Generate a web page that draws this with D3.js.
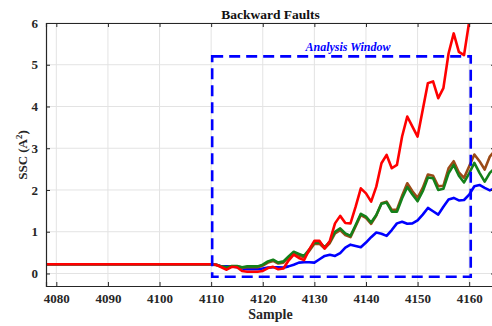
<!DOCTYPE html>
<html><head><meta charset="utf-8">
<script src="https://cdn.jsdelivr.net/npm/d3@7"></script>
<style>
body{margin:0;background:#fff;}
svg{display:block;}
text{font-family:"Liberation Serif","Times New Roman",serif;}
</style></head>
<body>
<svg id="c" width="492" height="326"></svg>
<script>
const samples = [4078,4110,4111,4112,4113,4114,4115,4116,4117,4118,4119,4120,4121,4122,4123,4124,4125,4126,4127,4128,4129,4130,4131,4132,4133,4134,4135,4136,4137,4138,4139,4140,4141,4142,4143,4144,4145,4146,4147,4148,4149,4150,4151,4152,4153,4154,4155,4156,4157,4158,4159,4160,4161,4162,4163,4164,4165];
const blueVals = [0.22,0.22,0.21,0.17,0.17,0.17,0.15,0.12,0.10,0.10,0.10,0.12,0.14,0.15,0.15,0.14,0.17,0.21,0.26,0.27,0.27,0.26,0.34,0.42,0.45,0.42,0.49,0.62,0.69,0.66,0.63,0.74,0.87,0.98,0.95,0.90,1.04,1.20,1.24,1.19,1.20,1.27,1.41,1.57,1.49,1.41,1.60,1.77,1.81,1.75,1.76,1.89,2.09,2.12,2.05,1.99,2.05];
const brownVals = [0.22,0.22,0.20,0.16,0.14,0.17,0.17,0.14,0.15,0.15,0.15,0.19,0.26,0.30,0.24,0.26,0.38,0.49,0.43,0.39,0.54,0.71,0.71,0.60,0.73,0.96,1.04,0.92,0.87,1.13,1.40,1.33,1.19,1.39,1.68,1.72,1.52,1.53,1.86,2.16,1.97,1.81,2.05,2.37,2.34,2.09,2.10,2.52,2.69,2.42,2.29,2.57,2.85,2.69,2.49,2.80,2.95];
const greenVals = [0.22,0.22,0.21,0.17,0.15,0.18,0.18,0.15,0.17,0.17,0.17,0.21,0.29,0.33,0.26,0.29,0.41,0.52,0.47,0.42,0.57,0.74,0.74,0.63,0.76,1.00,1.08,0.96,0.90,1.16,1.43,1.36,1.22,1.40,1.67,1.70,1.48,1.48,1.80,2.07,1.89,1.73,1.97,2.30,2.28,2.00,2.03,2.40,2.60,2.34,2.18,2.40,2.65,2.41,2.20,2.41,2.53];
const redVals = [0.22,0.22,0.21,0.15,0.09,0.16,0.15,0.06,0.04,0.04,0.04,0.06,0.13,0.16,0.10,0.12,0.31,0.45,0.37,0.32,0.57,0.78,0.78,0.60,0.78,1.20,1.38,1.21,1.20,1.60,2.04,1.92,1.72,2.08,2.64,2.84,2.52,2.60,3.28,3.76,3.52,3.28,3.92,4.56,4.60,4.20,4.44,5.27,5.75,5.31,5.23,6.03,6.60,6.40,6.30,6.80,7.20];
const seriesNames = ["blue","brown","green","red"];
const seriesColors = ["#0000ff","#9b4a17","#14801a","#ff0000"];
const xTicks = [4080,4090,4100,4110,4120,4130,4140,4150,4160];
const yTicks = [0,1,2,3,4,5,6];
const xDomain = [4078,4165];
const yDomain = [-0.3,6];
const windowX = [4110.2,4160.3];
const windowY = [-0.08,5.2];
const titleText = "Backward Faults";
const windowText = "Analysis Window";
const xLabel = "Sample";

const svg = d3.select("#c");
const L=46, T=23, R=495, B=286;
const x = d3.scaleLinear().domain(xDomain).range([L,R]);
const y = d3.scaleLinear().domain(yDomain).range([B,T]);

svg.append("defs").append("clipPath").attr("id","clip")
  .append("rect").attr("x",L).attr("y",T).attr("width",R-L).attr("height",B-T);

// grid
const g = svg.append("g");
g.selectAll(".gx").data(xTicks).enter().append("line")
  .attr("x1",d=>x(d)).attr("x2",d=>x(d)).attr("y1",T).attr("y2",B)
  .attr("stroke","#e3e3e3").attr("stroke-width",1);
g.selectAll(".gy").data(yTicks).enter().append("line")
  .attr("y1",d=>y(d)).attr("y2",d=>y(d)).attr("x1",L).attr("x2",R)
  .attr("stroke","#e3e3e3").attr("stroke-width",1);

// lines
const series = [blueVals,brownVals,greenVals,redVals];
const line = d3.line().x((d,i)=>x(samples[i])).y(d=>y(d));
const lg = svg.append("g").attr("clip-path","url(#clip)");
series.forEach((vals,k)=>{
  lg.append("path").datum(vals).attr("d",line)
    .attr("fill","none").attr("stroke",seriesColors[k])
    .attr("stroke-width",2.6).attr("stroke-linejoin","round");
});

// analysis window
svg.append("rect")
  .attr("x",x(windowX[0])).attr("y",y(windowY[1]))
  .attr("width",x(windowX[1])-x(windowX[0])).attr("height",y(windowY[0])-y(windowY[1]))
  .attr("fill","none").attr("stroke","#0000ff").attr("stroke-width",2.6)
  .attr("stroke-dasharray","11,6");
svg.append("text").attr("x",348).attr("y",51).attr("text-anchor","middle")
  .attr("fill","#0000ff").attr("font-size",12).attr("font-weight","bold").attr("font-style","italic")
  .text(windowText);

// axes
const axCol = "#262626";
const ax = svg.append("g").attr("transform",`translate(0,${B})`)
  .call(d3.axisBottom(x).tickValues(xTicks).tickSize(-4).tickPadding(8).tickFormat(d3.format("d")));
const axT = svg.append("g").attr("transform",`translate(0,${T})`)
  .call(d3.axisTop(x).tickValues(xTicks).tickSize(-4).tickFormat(""));
const ay = svg.append("g").attr("transform",`translate(${L},0)`)
  .call(d3.axisLeft(y).tickValues(yTicks).tickSize(-4).tickPadding(8).tickFormat(d3.format("d")));
const ayR = svg.append("g").attr("transform",`translate(${R},0)`)
  .call(d3.axisRight(y).tickValues(yTicks).tickSize(-4).tickFormat(""));
[ax,axT,ay,ayR].forEach(a=>{
  a.select(".domain").attr("stroke",axCol).attr("stroke-width",1.2);
  a.selectAll(".tick line").attr("stroke",axCol);
  a.selectAll(".tick text").attr("fill",axCol).attr("font-size",13).attr("font-weight","bold")
    .attr("font-family","Liberation Serif, Times New Roman, serif");
});

// title & labels
svg.append("text").attr("x",270.5).attr("y",19).attr("text-anchor","middle")
  .attr("font-size",13.5).attr("font-weight","bold").attr("fill","#111").text(titleText);
svg.append("text").attr("x",270.5).attr("y",319).attr("text-anchor","middle")
  .attr("font-size",14).attr("font-weight","bold").attr("fill","#262626").text(xLabel);
const yl = svg.append("text").attr("transform","translate(27,155) rotate(-90)")
  .attr("text-anchor","middle").attr("font-size",13).attr("font-weight","bold").attr("fill","#262626");
yl.append("tspan").text("SSC (A");
yl.append("tspan").attr("dy",-5).attr("font-size",9).text("2");
yl.append("tspan").attr("dy",5).text(")");
</script>
</body></html>
